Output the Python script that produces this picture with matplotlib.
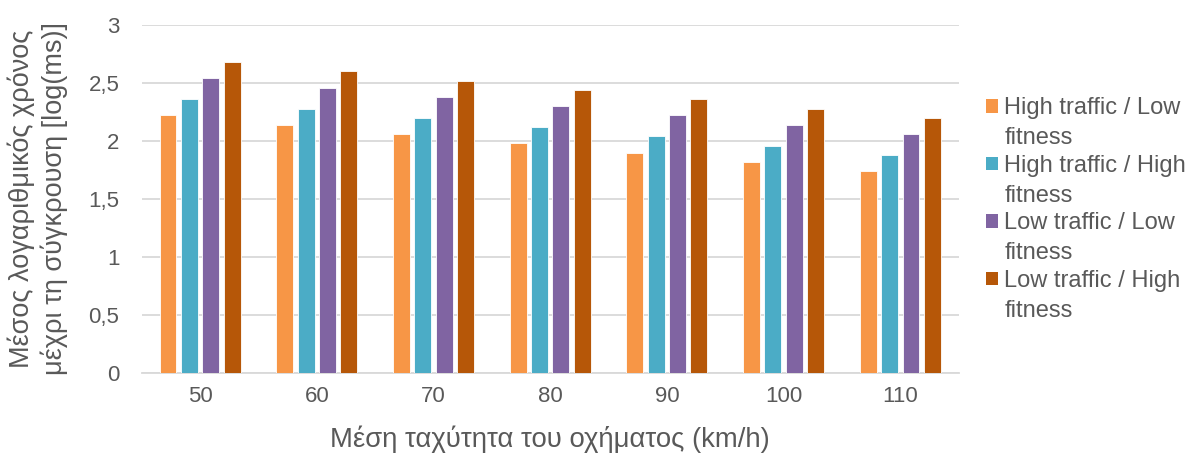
import matplotlib
matplotlib.use("Agg")
import matplotlib.pyplot as plt
import numpy as np
from matplotlib.patches import Patch, Rectangle
from matplotlib.legend_handler import HandlerPatch

categories = ["50", "60", "70", "80", "90", "100", "110"]
series_names = ["High traffic / Low\nfitness", "High traffic / High\nfitness",
                "Low traffic / Low\nfitness", "Low traffic / High\nfitness"]
hl = [2.22, 2.14, 2.06, 1.98, 1.90, 1.82, 1.74]
hh = [2.36, 2.28, 2.20, 2.12, 2.04, 1.96, 1.88]
ll = [2.54, 2.46, 2.38, 2.30, 2.22, 2.14, 2.06]
lh = [2.68, 2.60, 2.52, 2.44, 2.36, 2.28, 2.20]
colors = ["#F79646", "#4BACC6", "#8064A2", "#B65708"]
yticks = [0, 0.5, 1, 1.5, 2, 2.5, 3]
ytick_labels = ["0", "0,5", "1", "1,5", "2", "2,5", "3"]

plt.rcParams['font.family'] = ['Liberation Sans', 'DejaVu Sans']
txt = "#595959"

fig = plt.figure(figsize=(11.87, 4.57), dpi=100)
ax = fig.add_axes([141.7 / 1187, 84 / 457, 817 / 1187, 348 / 457])

x = np.arange(len(categories))
pitch = 0.183
width = 0.145
for i, (vals, c) in enumerate(zip([hl, hh, ll, lh], colors)):
    ax.bar(x + (i - 1.5) * pitch, vals, width, color=c,
           edgecolor="white", linewidth=0.6, zorder=3)

ax.set_xlim(-0.5, len(categories) - 0.5)
ax.set_ylim(0, 3)
ax.set_yticks(yticks)
ax.set_yticklabels(ytick_labels)
ax.set_xticks(x)
ax.set_xticklabels(categories)
ax.grid(axis="y", color="#D9D9D9", linewidth=1.3, zorder=0)
for s in ["top", "right", "left"]:
    ax.spines[s].set_visible(False)
ax.spines["bottom"].set_color("#D9D9D9")
ax.spines["bottom"].set_linewidth(1.3)
ax.tick_params(axis="both", length=0, labelsize=16, colors=txt)
ax.tick_params(axis="x", pad=9)
ax.tick_params(axis="y", pad=16)

ax.set_xlabel("Μέση ταχύτητα του οχήματος (km/h)", fontsize=19.8, color=txt, labelpad=14)
ax.set_ylabel("Μέσος λογαριθμικός χρόνος\nμέχρι τη σύγκρουση [log(ms)]", fontsize=19.5,
              color=txt, labelpad=15, linespacing=1.25)

leg_fs = 17.0


def top_square(legend, orig_handle, xdescent, ydescent, width, height, fontsize):
    return Rectangle((-xdescent, -ydescent + 0.74 * fontsize), width, height)


handles = [Patch(facecolor=c, edgecolor="none") for c in colors]
leg = ax.legend(handles, series_names, loc="center left", bbox_to_anchor=(1.008, 0.47),
                frameon=False, fontsize=leg_fs, labelcolor=txt,
                handlelength=0.5, handleheight=0.5, handletextpad=0.25,
                labelspacing=0.24,
                handler_map={Patch: HandlerPatch(patch_func=top_square)})
for t in leg.get_texts():
    t.set_linespacing(1.46)

fig.savefig("out.png", dpi=100)
